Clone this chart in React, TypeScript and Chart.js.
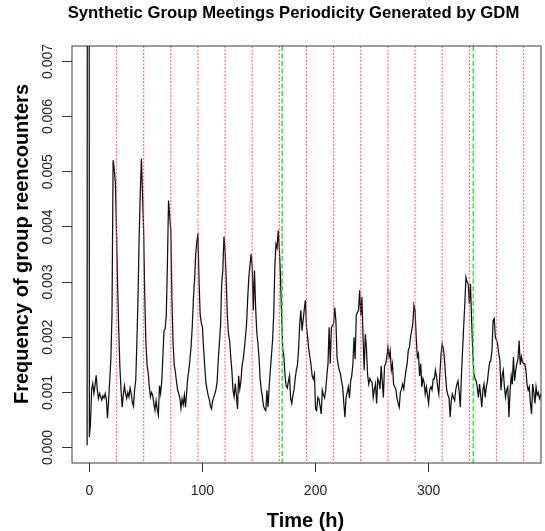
import React, { useEffect, useRef } from "react";
import { Chart, registerables } from "chart.js";

Chart.register(...registerables);

const TITLE = "Synthetic Group Meetings Periodicity Generated by GDM";
const X_TITLE = "Time (h)";
const Y_TITLE = "Frequency of group reencounters";

const X_TICKS = [0, 100, 200, 300];
const Y_TICKS = [0, 0.001, 0.002, 0.003, 0.004, 0.005, 0.006, 0.007];
const Y_TICK_LABELS = ["0.000", "0.001", "0.002", "0.003", "0.004", "0.005", "0.006", "0.007"];

const X_MIN = -15.36;
const X_MAX = 399.36;
const Y_MIN = -0.00028;
const Y_MAX = 0.00728;

// daily (red dotted) and weekly (green dashed) reference lines, in hours
const DAY_LINES = [24, 48, 72, 96, 120, 144, 168, 192, 216, 240, 264, 288, 312, 336, 360, 384];
const WEEK_LINES = [170.5, 339.5];

// leading samples before hour 0 (initial spike)
const START_HOURS = [-2, -1];
const START_VALUES = [0.00004, 0.05];

// hourly values, one array per day (hour 24*d + h)
const DAY_0 = [0.00019, 0.00045, 0.00105, 0.00116, 0.00098, 0.00112, 0.00131, 0.00105, 0.00089, 0.00098, 0.00092, 0.00086, 0.00094, 0.0009, 0.00098, 0.00088, 0.00053, 0.00085, 0.00121, 0.0016, 0.0024, 0.00521, 0.00505, 0.0048];
const DAY_1 = [0.0039, 0.0029, 0.0021, 0.00145, 0.00105, 0.00073, 0.00095, 0.00112, 0.00098, 0.00089, 0.001, 0.00092, 0.00108, 0.00098, 0.00082, 0.00075, 0.00105, 0.00121, 0.0019, 0.0027, 0.0038, 0.0046, 0.00524, 0.0046];
const DAY_2 = [0.0039, 0.0027, 0.0019, 0.0015, 0.00136, 0.0011, 0.00092, 0.001, 0.00095, 0.0008, 0.00068, 0.00085, 0.0007, 0.00059, 0.00112, 0.00098, 0.0012, 0.00165, 0.00212, 0.00215, 0.0024, 0.0033, 0.00448, 0.0042];
const DAY_3 = [0.00394, 0.0027, 0.0019, 0.0015, 0.00138, 0.0012, 0.00105, 0.00098, 0.0009, 0.00071, 0.00088, 0.00078, 0.00095, 0.00073, 0.001, 0.00127, 0.0014, 0.00162, 0.00185, 0.0022, 0.0027, 0.00303, 0.0035, 0.00373];
const DAY_4 = [0.00388, 0.003, 0.0024, 0.00226, 0.00218, 0.0018, 0.00148, 0.00118, 0.00106, 0.00095, 0.00088, 0.00075, 0.0007, 0.00085, 0.00091, 0.00098, 0.00106, 0.0012, 0.0016, 0.0019, 0.0022, 0.00297, 0.00321, 0.00382];
const DAY_5 = [0.00357, 0.00305, 0.0024, 0.00206, 0.00194, 0.00165, 0.0014, 0.00104, 0.00092, 0.00116, 0.00095, 0.0007, 0.0013, 0.00106, 0.0012, 0.00148, 0.0016, 0.00178, 0.002, 0.00224, 0.0027, 0.00309, 0.0033, 0.00351];
const DAY_6 = [0.00327, 0.00249, 0.00321, 0.00255, 0.0021, 0.0019, 0.00164, 0.00125, 0.00105, 0.00092, 0.00075, 0.0007, 0.00067, 0.00104, 0.00073, 0.0011, 0.0014, 0.00166, 0.00195, 0.0024, 0.00327, 0.00369, 0.00362, 0.00394];
const DAY_7 = [0.0036, 0.00309, 0.0024, 0.00178, 0.00166, 0.0013, 0.00112, 0.00108, 0.0012, 0.0013, 0.00088, 0.0008, 0.00095, 0.00105, 0.00125, 0.0014, 0.0015, 0.00178, 0.00224, 0.00249, 0.00212, 0.0023, 0.0025, 0.00267];
const DAY_8 = [0.00218, 0.002, 0.00178, 0.00165, 0.0015, 0.0013, 0.00124, 0.00133, 0.0007, 0.00067, 0.00091, 0.00088, 0.00075, 0.00061, 0.00104, 0.00095, 0.0009, 0.00104, 0.0013, 0.00152, 0.00218, 0.00152, 0.00218, 0.00221];
const DAY_9 = [0.00225, 0.00254, 0.0023, 0.00164, 0.0015, 0.0014, 0.00134, 0.0012, 0.0011, 0.0008, 0.00055, 0.00091, 0.001, 0.0011, 0.0009, 0.0012, 0.0013, 0.0015, 0.002, 0.0016, 0.0024, 0.00245, 0.00249, 0.00285];
const DAY_10 = [0.0024, 0.00273, 0.002, 0.0014, 0.00206, 0.0018, 0.00133, 0.00115, 0.00125, 0.00121, 0.00118, 0.00091, 0.00105, 0.00115, 0.0008, 0.00125, 0.0012, 0.00106, 0.00148, 0.0012, 0.00091, 0.00148, 0.00152, 0.00164];
const DAY_11 = [0.00182, 0.00164, 0.00176, 0.0014, 0.00152, 0.00115, 0.0011, 0.00106, 0.0009, 0.0008, 0.00073, 0.001, 0.00106, 0.00115, 0.00106, 0.00125, 0.0014, 0.00152, 0.00176, 0.00182, 0.002, 0.00212, 0.00224, 0.00258];
const DAY_12 = [0.00249, 0.002, 0.00164, 0.0017, 0.0013, 0.00152, 0.0011, 0.00125, 0.00118, 0.00097, 0.0011, 0.00095, 0.0008, 0.00106, 0.0011, 0.00104, 0.00124, 0.00124, 0.0014, 0.00128, 0.0011, 0.00097, 0.00135, 0.0017];
const DAY_13 = [0.00188, 0.0018, 0.0016, 0.0013, 0.00104, 0.00095, 0.00091, 0.00055, 0.00085, 0.00097, 0.0009, 0.00085, 0.00105, 0.00115, 0.00121, 0.001, 0.00073, 0.0013, 0.00176, 0.0022, 0.00261, 0.00309, 0.003, 0.00297];
const DAY_14 = [0.00261, 0.00297, 0.0023, 0.00176, 0.00133, 0.00125, 0.00121, 0.00109, 0.00091, 0.00115, 0.00095, 0.00073, 0.00105, 0.00115, 0.00091, 0.0011, 0.0012, 0.0014, 0.00155, 0.00158, 0.00176, 0.0023, 0.00234, 0.002];
const DAY_15 = [0.00195, 0.00188, 0.0017, 0.00158, 0.00104, 0.0013, 0.0014, 0.0011, 0.00091, 0.00105, 0.0011, 0.00055, 0.001, 0.0013, 0.00115, 0.00164, 0.00121, 0.0014, 0.00152, 0.0016, 0.00194, 0.0015, 0.00165, 0.00155];
const DAY_16 = [0.00152, 0.00152, 0.0014, 0.00115, 0.00104, 0.0011, 0.0008, 0.00061, 0.00115, 0.001, 0.0008, 0.0011, 0.00095, 0.001, 0.00089, 0.00095, 0.0009];

const DAYS = [DAY_0, DAY_1, DAY_2, DAY_3, DAY_4, DAY_5, DAY_6, DAY_7, DAY_8, DAY_9, DAY_10, DAY_11, DAY_12, DAY_13, DAY_14, DAY_15, DAY_16];

const FONT = '"Liberation Sans", Arial, Helvetica, sans-serif';

function buildPoints() {
  const pts: { x: number; y: number }[] = [];
  START_HOURS.forEach((h, i) => pts.push({ x: h, y: START_VALUES[i] }));
  DAYS.forEach((day, d) => day.forEach((v, h) => pts.push({ x: 24 * d + h, y: v })));
  return pts;
}

const decorPlugin = {
  id: "decor",
  afterDatasetsDraw(chart: any) {
    const { ctx, chartArea: a, scales } = chart;
    const x = scales.x;
    ctx.save();
    ctx.beginPath();
    ctx.rect(a.left, a.top, a.right - a.left, a.bottom - a.top);
    ctx.clip();
    ctx.lineWidth = 1.2;
    ctx.strokeStyle = "rgba(255,70,70,0.75)";
    ctx.setLineDash([2, 1.5]);
    for (const h of DAY_LINES) {
      const px = x.getPixelForValue(h);
      ctx.beginPath();
      ctx.moveTo(px, a.top);
      ctx.lineTo(px, a.bottom);
      ctx.stroke();
    }
    ctx.strokeStyle = "rgba(40,230,40,0.9)";
    ctx.lineWidth = 1.6;
    ctx.setLineDash([5, 2.5]);
    for (const h of WEEK_LINES) {
      const px = x.getPixelForValue(h);
      ctx.beginPath();
      ctx.moveTo(px, a.top);
      ctx.lineTo(px, a.bottom);
      ctx.stroke();
    }
    ctx.restore();
  },
  afterDraw(chart: any) {
    const { ctx, chartArea: a, scales } = chart;
    const y = scales.y;
    ctx.save();
    // plot box
    ctx.strokeStyle = "#3a3a3a";
    ctx.lineWidth = 1;
    ctx.setLineDash([]);
    ctx.strokeRect(a.left, a.top, a.right - a.left, a.bottom - a.top);

    ctx.fillStyle = "#000";
    // main title
    ctx.font = `bold 16.7px ${FONT}`;
    ctx.textAlign = "center";
    ctx.textBaseline = "alphabetic";
    ctx.fillText(TITLE, 293.5, 17.5);
    // x title
    ctx.font = `bold 20px ${FONT}`;
    ctx.fillText(X_TITLE, 305.5, 527);
    // y title
    ctx.save();
    ctx.translate(27.5, 244);
    ctx.rotate(-Math.PI / 2);
    ctx.fillText(Y_TITLE, 0, 0);
    ctx.restore();
    // y tick labels
    ctx.font = `14px ${FONT}`;
    ctx.fillStyle = "#222";
    Y_TICKS.forEach((v, i) => {
      const py = y.getPixelForValue(v);
      ctx.save();
      ctx.translate(52, py);
      ctx.rotate(-Math.PI / 2);
      ctx.fillText(Y_TICK_LABELS[i], 0, 0);
      ctx.restore();
    });
    ctx.restore();
  },
};

export default function App() {
  const ref = useRef<HTMLCanvasElement | null>(null);
  useEffect(() => {
    if (!ref.current) return;
    const chart = new Chart(ref.current, {
      type: "line",
      data: {
        datasets: [
          {
            data: buildPoints(),
            borderColor: "#111",
            borderWidth: 1.25,
            pointRadius: 0,
            tension: 0,
            fill: false,
            clip: 0,
          },
        ],
      },
      options: {
        responsive: false,
        animation: false,
        devicePixelRatio: 1,
        layout: { padding: { top: 46, right: 4, left: 0, bottom: 0 } },
        plugins: { legend: { display: false }, tooltip: { enabled: false }, title: { display: false } },
        scales: {
          x: {
            type: "linear",
            min: X_MIN,
            max: X_MAX,
            afterBuildTicks: (s: any) => {
              s.ticks = X_TICKS.map((v) => ({ value: v }));
            },
            afterFit: (s: any) => {
              s.height = 68;
            },
            grid: { drawOnChartArea: false, drawTicks: true, tickLength: 9, color: "#333", lineWidth: 1 },
            border: { display: false },
            ticks: {
              color: "#222",
              font: { family: FONT, size: 14 },
              padding: 11,
              maxRotation: 0,
              autoSkip: false,
              callback: (v: any) => String(v),
            },
          },
          y: {
            type: "linear",
            min: Y_MIN,
            max: Y_MAX,
            afterBuildTicks: (s: any) => {
              s.ticks = Y_TICKS.map((v) => ({ value: v }));
            },
            afterFit: (s: any) => {
              s.width = 72;
            },
            grid: { drawOnChartArea: false, drawTicks: true, tickLength: 10, color: "#333", lineWidth: 1 },
            border: { display: false },
            ticks: { display: false },
          },
        },
      },
      plugins: [decorPlugin],
    });
    return () => chart.destroy();
  }, []);
  return (
    <div style={{ position: "absolute", left: 0, top: 0, width: 545, height: 531, background: "#fff" }}>
      <canvas ref={ref} width={545} height={531} style={{ display: "block" }} />
    </div>
  );
}
